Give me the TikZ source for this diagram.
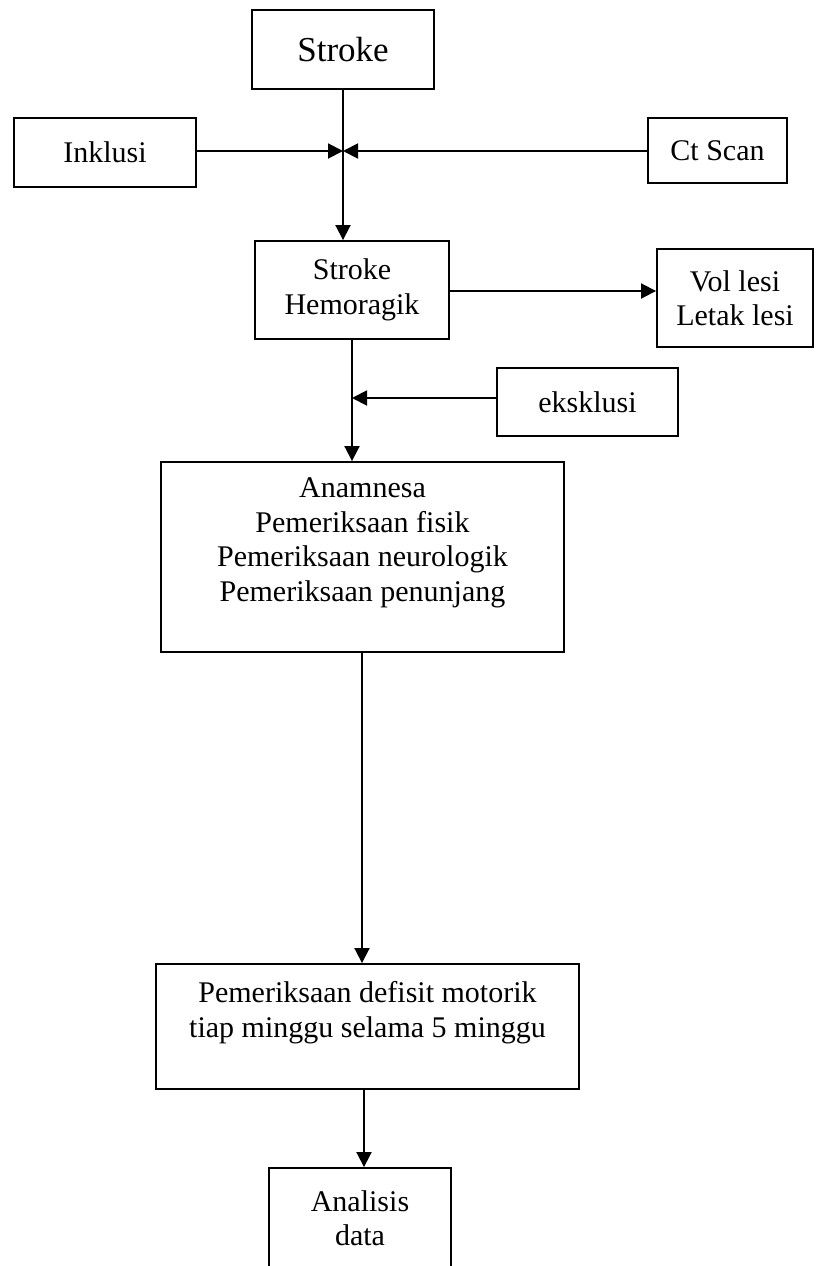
\documentclass[tikz,border=0pt]{standalone}
\usepackage{fontspec}
\setmainfont{Liberation Serif}
\usepackage{tikz}
\usetikzlibrary{shapes,arrows.meta}
\usetikzlibrary{positioning}

\begin{document}
\begin{tikzpicture}[x=1pt,y=-1pt,
  box/.style={draw, line width=1.9pt, inner sep=0pt, align=center,
    font=\fontsize{30}{34.5}\selectfont},
  arr/.style={line width=1.9pt, -{Triangle[length=15pt,width=15pt]}}]
 \useasboundingbox (0,0) rectangle (815,1266);

 % top row
 \node[box, minimum width=182pt, minimum height=79pt,
   font=\fontsize{35}{40}\selectfont] (stroke) at (343,49.5) {Stroke};
 \node[box, minimum width=182pt, minimum height=69pt] (inklusi) at (105,152.5) {Inklusi};
 \node[box, minimum width=139pt, minimum height=65pt] (ctscan) at (717.5,150.5) {Ct Scan};
 \coordinate (jn) at (343,151);

 % middle
 \node[box, minimum width=194pt, minimum height=98pt] (hemo) at (352,290) {Stroke\\Hemoragik};
 \node[box, minimum width=156pt, minimum height=98pt] (lesi) at (735,298) {Vol lesi\\Letak lesi};
 \node[box, minimum width=181pt, minimum height=68pt] (eksklusi) at (587.5,402) {eksklusi};
 \node[box, minimum width=403pt, minimum height=190pt] (anam) at (362.5,557)
   {Anamnesa\\Pemeriksaan fisik\\Pemeriksaan neurologik\\Pemeriksaan penunjang\\\mbox{}};

 % bottom
 \node[box, minimum width=423pt, minimum height=125pt] (defisit) at (367.5,1026.5)
   {Pemeriksaan defisit motorik\\tiap minggu selama 5 minggu\\\mbox{}};
 \node[box, minimum width=182pt, minimum height=100pt] (analisis) at (360,1218) {Analisis\\data};

 % connectors
 \draw[arr] (stroke.south) -- (stroke.south |- hemo.north);
 \draw[arr] (inklusi.east |- jn) -- (jn);
 \draw[arr] (ctscan.west |- jn) -- (jn);
 \draw[arr] (hemo.east |- 0,291) -- (lesi.west |- 0,291);
 \draw[arr] (hemo.south) -- (hemo.south |- anam.north);
 \draw[arr] (eksklusi.west |- 0,398) -- (hemo.south |- 0,398);
 \draw[arr] (anam.south -| 362,0) -- (defisit.north -| 362,0);
 \draw[arr] (defisit.south -| 364,0) -- (analisis.north -| 364,0);

\end{tikzpicture}
\end{document}
